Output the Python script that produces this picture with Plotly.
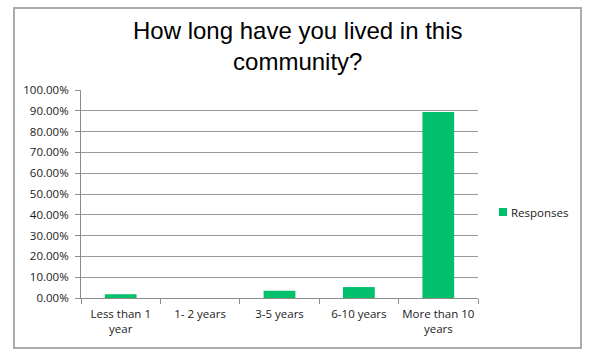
import plotly.graph_objects as go

categories = ["Less than 1<br>year", "1- 2 years", "3-5 years", "6-10 years", "More than 10<br>years"]
responses = [0.0175, 0.0, 0.0351, 0.0526, 0.8947]
series_name = "Responses"
title_text = "How long have you lived in this<br>community?"

W, H = 593, 362
L, R, T, B = 81, 115, 90, 64
pw, ph = W - L - R, H - T - B

def px(x):
    return (x - L) / pw

def py(y):
    return (H - B - y) / ph

BAR_COLOR = "#00C06C"

fig = go.Figure()
fig.add_trace(go.Bar(
    x=categories, y=responses, name=series_name,
    marker=dict(color=BAR_COLOR, line=dict(width=0)),
    showlegend=False,
))

fig.update_layout(
    width=W, height=H,
    margin=dict(l=L, r=R, t=T, b=B, autoexpand=False),
    paper_bgcolor="white", plot_bgcolor="white",
    bargap=0.6,
    font=dict(family="Open Sans, Liberation Sans, sans-serif", size=11.5, color="#1a1a1a"),
    showlegend=False,
    annotations=[
        dict(
            text=title_text, xref="paper", yref="paper",
            x=px(297.5), y=py(46.5), xanchor="center", yanchor="middle",
            showarrow=False,
            font=dict(family="Liberation Sans, Arial, sans-serif", size=24, color="black"),
        ),
        dict(
            text=series_name, xref="paper", yref="paper",
            x=px(509), y=py(212), xanchor="left", yanchor="middle",
            showarrow=False, font=dict(size=11.5, color="#1a1a1a"),
        ),
    ],
    shapes=[
        dict(
            type="rect", xref="paper", yref="paper",
            x0=px(14), x1=px(581), y0=py(348), y1=py(8),
            line=dict(color="#ababab", width=2), fillcolor="rgba(0,0,0,0)", layer="below",
        ),
        dict(
            type="rect", xref="paper", yref="paper",
            x0=px(499), x1=px(507), y0=py(216), y1=py(208),
            line=dict(width=0), fillcolor=BAR_COLOR,
        ),
    ],
)

fig.update_xaxes(
    type="category", tickson="boundaries", ticks="outside", ticklen=5,
    tickcolor="#8c8c8c", showline=True, linecolor="#8c8c8c", linewidth=1,
    showgrid=False, tickfont=dict(size=11.5), tickangle=0, automargin=False,
    ticklabelstandoff=5,
)
fig.update_yaxes(
    range=[0, 1], dtick=0.1, tickformat=".2%", ticks="outside", ticklen=5,
    tickcolor="#8c8c8c", showline=True, linecolor="#8c8c8c", linewidth=1,
    showgrid=True, gridcolor="#9a9a9a", gridwidth=1, zeroline=False,
    tickfont=dict(size=11.5), automargin=False, ticklabelstandoff=4,
)

fig.write_html("out.html")
